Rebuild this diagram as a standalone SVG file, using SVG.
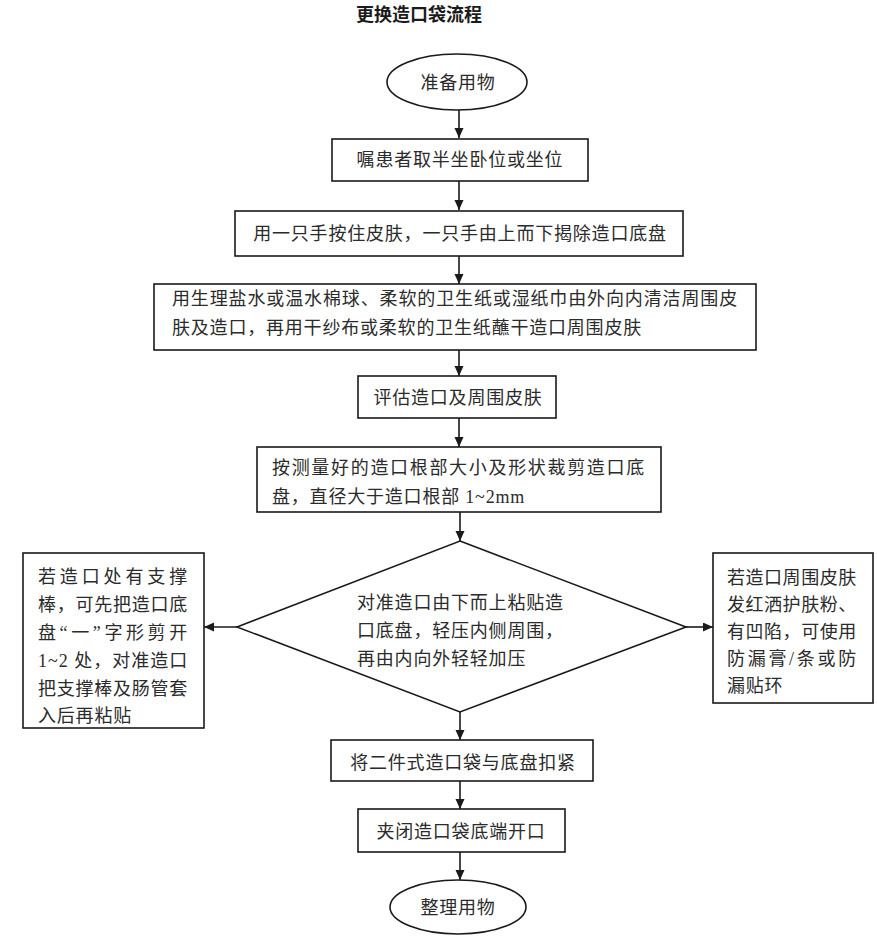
<svg xmlns="http://www.w3.org/2000/svg" width="877" height="948" viewBox="0 0 877 948">
<style>
.bg{fill:#ffffff}
.box{fill:#ffffff;stroke:#1a1a1a;stroke-width:1.6}
.edge{fill:none;stroke:#1a1a1a;stroke-width:1.6}
.t{font-family:"Liberation Serif","Noto Sans CJK SC",serif;font-size:18px;fill:#2b2b2b;letter-spacing:0.8px}
.c{text-anchor:middle}
.title{font-family:"Noto Sans CJK SC","Liberation Sans",sans-serif;font-size:18px;font-weight:bold;fill:#1a1a1a;text-anchor:middle}
</style>
<defs>
<marker id="arr" markerUnits="userSpaceOnUse" markerWidth="11" markerHeight="10" refX="10" refY="4.5" orient="auto">
<path d="M0,0 L10,4.5 L0,9 z" fill="#1a1a1a"/>
</marker>
</defs>
<rect class="bg" x="0" y="0" width="877" height="948"/>
<text class="title" x="419" y="21">更换造口袋流程</text>

<g id="connectors">
<line class="edge" x1="459" y1="110" x2="459" y2="138" marker-end="url(#arr)"/>
<line class="edge" x1="459" y1="181" x2="459" y2="210" marker-end="url(#arr)"/>
<line class="edge" x1="459" y1="256" x2="459" y2="284" marker-end="url(#arr)"/>
<line class="edge" x1="459" y1="350" x2="459" y2="376" marker-end="url(#arr)"/>
<line class="edge" x1="459" y1="418" x2="459" y2="447" marker-end="url(#arr)"/>
<line class="edge" x1="460" y1="512" x2="460" y2="541" marker-end="url(#arr)"/>
<line class="edge" x1="460" y1="712" x2="460" y2="740" marker-end="url(#arr)"/>
<line class="edge" x1="460" y1="781" x2="460" y2="809" marker-end="url(#arr)"/>
<line class="edge" x1="460" y1="852" x2="460" y2="880" marker-end="url(#arr)"/>
<line class="edge" x1="237" y1="627" x2="204" y2="627" marker-end="url(#arr)"/>
<line class="edge" x1="686" y1="627" x2="713" y2="627" marker-end="url(#arr)"/>
</g>

<g id="start">
<ellipse class="box" cx="457" cy="82" rx="70" ry="28"/>
<text class="t c" x="458" y="89">准备用物</text>
</g>

<g id="step1">
<rect class="box" x="332" y="139" width="256" height="42"/>
<text class="t c" x="460" y="166">嘱患者取半坐卧位或坐位</text>
</g>

<g id="step2">
<rect class="box" x="235" y="211" width="448" height="45"/>
<text class="t c" x="460" y="240">用一只手按住皮肤，一只手由上而下揭除造口底盘</text>
</g>

<g id="step3">
<rect class="box" x="154" y="284" width="602" height="66"/>
<text class="t" x="172" y="305" textLength="566" lengthAdjust="spacing">用生理盐水或温水棉球、柔软的卫生纸或湿纸巾由外向内清洁周围皮</text>
<text class="t" x="172" y="334">肤及造口，再用干纱布或柔软的卫生纸蘸干造口周围皮肤</text>
</g>

<g id="step4">
<rect class="box" x="358" y="376" width="198" height="42"/>
<text class="t c" x="458" y="404">评估造口及周围皮肤</text>
</g>

<g id="step5">
<rect class="box" x="257" y="447" width="404" height="65"/>
<text class="t" x="272" y="474" textLength="373" lengthAdjust="spacing">按测量好的造口根部大小及形状裁剪造口底</text>
<text class="t" x="272" y="503">盘，直径大于造口根部 1~2mm</text>
</g>

<g id="apply">
<polygon class="box" points="460,541 686,627 460,712 237,627"/>
<text class="t" x="357" y="609">对准造口由下而上粘贴造</text>
<text class="t" x="357" y="637">口底盘，轻压内侧周围，</text>
<text class="t" x="357" y="665">再由内向外轻轻加压</text>
</g>

<g id="left-note">
<rect class="box" x="23" y="553" width="181" height="175"/>
<text class="t" x="38" y="582.5" textLength="150" lengthAdjust="spacing">若造口处有支撑</text>
<text class="t" x="38" y="610.5" textLength="150" lengthAdjust="spacing">棒，可先把造口底</text>
<text class="t" x="38" y="638.5" textLength="150" lengthAdjust="spacing">盘“一”字形剪开</text>
<text class="t" x="38" y="666.5" textLength="150" lengthAdjust="spacing">1~2 处，对准造口</text>
<text class="t" x="38" y="694.5" textLength="150" lengthAdjust="spacing">把支撑棒及肠管套</text>
<text class="t" x="38" y="722">入后再粘贴</text>
</g>

<g id="right-note">
<rect class="box" x="713" y="553" width="160" height="150"/>
<text class="t" x="727" y="583.5" textLength="130" lengthAdjust="spacing">若造口周围皮肤</text>
<text class="t" x="727" y="610.5" textLength="130" lengthAdjust="spacing">发红洒护肤粉、</text>
<text class="t" x="727" y="637.5" textLength="130" lengthAdjust="spacing">有凹陷，可使用</text>
<text class="t" x="727" y="664.5" textLength="130" lengthAdjust="spacing">防漏膏/条或防</text>
<text class="t" x="727" y="691.5">漏贴环</text>
</g>

<g id="step6">
<rect class="box" x="331" y="740" width="262" height="41"/>
<text class="t c" x="463" y="769">将二件式造口袋与底盘扣紧</text>
</g>

<g id="step7">
<rect class="box" x="358" y="809" width="207" height="43"/>
<text class="t c" x="461" y="838">夹闭造口袋底端开口</text>
</g>

<g id="end">
<ellipse class="box" cx="458" cy="907" rx="68" ry="27"/>
<text class="t c" x="458" y="914">整理用物</text>
</g>
</svg>
